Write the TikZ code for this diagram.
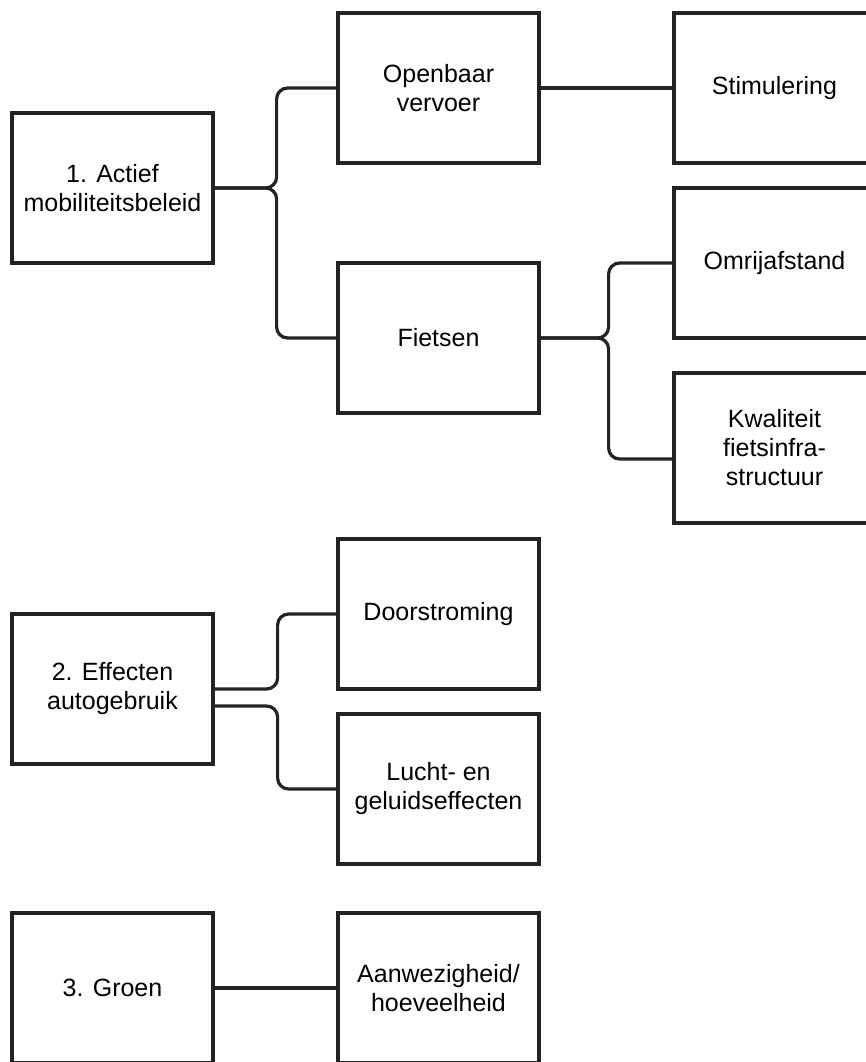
\documentclass[tikz,border=0pt]{standalone}
\usepackage{fontspec}
\setmainfont{Liberation Sans}
\usepackage{tikz}
\definecolor{cLine}{RGB}{35,35,35}

\begin{document}
\begin{tikzpicture}[x=1pt,y=-1pt,
  box/.style={draw=cLine,line width=3.2pt,minimum width=201pt,minimum height=150pt,
    inner sep=0pt,align=center,font=\fontsize{25pt}{29pt}\selectfont},
  link/.style={cLine,line width=3.2pt,rounded corners=11pt}]
\useasboundingbox (0,0) rectangle (866,1062);
% column 1
\node[box] (act) at (112.5,188) {1. Actief\\mobiliteitsbeleid};
\node[box] (eff) at (112.5,689) {2. Effecten\\autogebruik};
\node[box] (groen) at (112.5,988) {3. Groen};
% column 2
\node[box] (ov) at (438.5,88) {Openbaar\\vervoer};
\node[box] (fiets) at (438.5,338) {Fietsen};
\node[box] (door) at (438.5,614) {Doorstroming};
\node[box] (lucht) at (438.5,789) {Lucht- en\\geluidseffecten};
\node[box] (aanw) at (438.5,988) {Aanwezigheid/\\hoeveelheid};
% column 3
\node[box] (stim) at (774.5,88) {Stimulering};
\node[box] (omrij) at (774.5,263) {Omrijafstand};
\node[box] (kwal) at (774.5,448) {Kwaliteit\\fietsinfra-\\structuur};
% connectors
\draw[link] (act.east) -- ++(62,0) |- (ov.west);
\draw[link] (act.east) -- ++(62,0) |- (fiets.west);
\draw[link] (ov.east) -- (stim.west);
\draw[link] (fiets.east) -- ++(68,0) |- (omrij.west);
\draw[link] (fiets.east) -- ++(68,0) |- ([yshift=-11pt]kwal.west);
\draw[link] (eff.east) -- ++(63,0) |- (door.west);
\draw[link] ([yshift=-17pt]eff.east) -- ++(63,0) |- (lucht.west);
\draw[link] (groen.east) -- (aanw.west);
\end{tikzpicture}
\end{document}
